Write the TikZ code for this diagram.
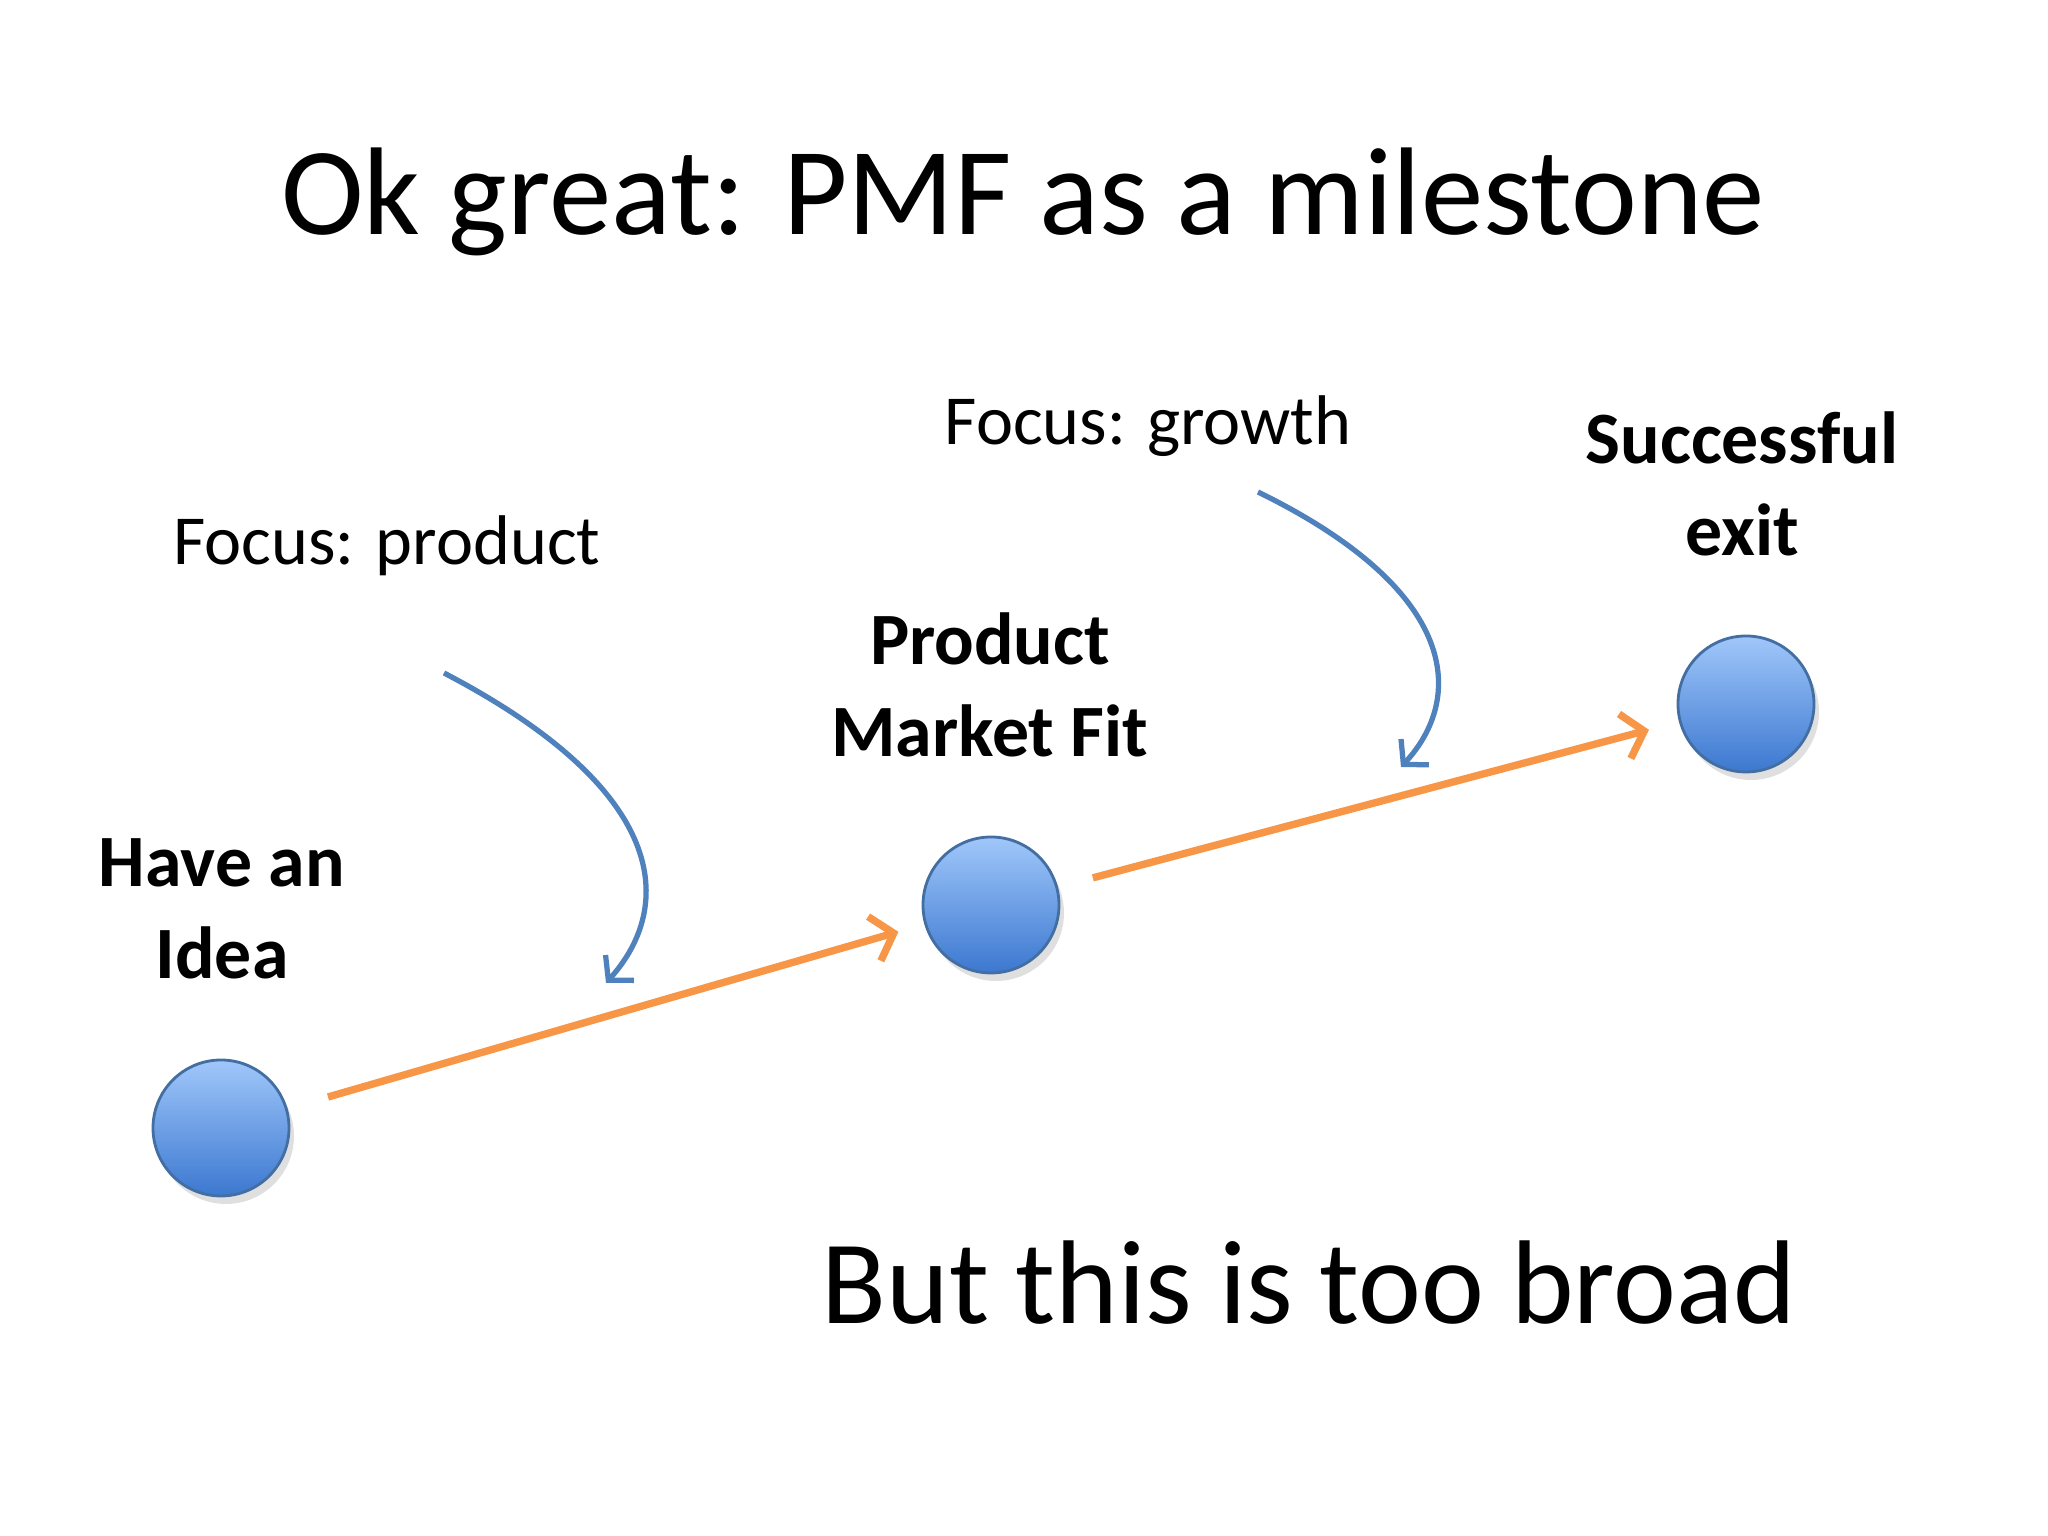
\documentclass[tikz,border=0pt]{standalone}
\usepackage{fontspec}
\setmainfont{Carlito}
\usetikzlibrary{arrows.meta,shadows}
\definecolor{stageblue}{RGB}{79,129,189}
\definecolor{ballblue}{RGB}{60,120,208}
\definecolor{balltop}{RGB}{160,199,250}
\definecolor{steporange}{RGB}{247,150,70}
\begin{document}
\begin{tikzpicture}
    [
    stage/.style={circle,draw=stageblue!85!black,line width=0.8pt,minimum size=1.36cm,inner sep=0pt,
      top color=balltop,bottom color=ballblue,drop shadow={opacity=0.25,shadow xshift=0.5mm,shadow yshift=-0.8mm}},
    caption/.style={font=\fontsize{21}{26}\selectfont\bfseries,align=center},
    focus/.style={font=\fontsize{20}{24}\selectfont},
    progress/.style={draw=steporange,line width=2.1pt,-{Straight Barb[length=2mm,width=4.6mm]}},
    pressure/.style={draw=stageblue,line width=1.5pt,-{Straight Barb[length=1.7mm,width=3.8mm]}}
    ]
    \useasboundingbox (0,0) rectangle (20.48,15.36);
    \node (title) at (10.23,13.34) {\fontsize{35.5}{42}\selectfont Ok great: PMF as a milestone};
    \node (idea) at (2.21,4.08) [stage] {};
    \node (pmf) at (9.91,6.31) [stage] {};
    \node (exit) at (17.46,8.32) [stage] {};
    \node (ideatext) at (2.22,6.27) [caption] {Have an\\Idea};
    \node (pmftext) at (9.90,8.51) [caption] {Product\\Market Fit};
    \node (exittext) at (17.42,10.52) [caption] {Successful\\exit};
    \node (product) at (3.87,9.90) [focus] {Focus: product};
    \node (growth) at (11.48,11.10) [focus] {Focus: growth};
    \node (broad) at (13.09,2.53) {\fontsize{33.9}{40}\selectfont But this is too broad};
    \coordinate (p1) at (4.44,8.63);
    \coordinate (p2) at (6.06,5.53);
    \coordinate (g1) at (12.58,10.44);
    \coordinate (g2) at (14.01,7.69);
    \draw [progress,shorten <=0.42cm,shorten >=0.27cm] (idea) to (pmf);
    \draw [progress,shorten <=0.36cm,shorten >=0.31cm] (pmf) to (exit);
    \draw [pressure] (p1) .. controls (6.7,7.45) and (6.75,6.3) .. (p2);
    \draw [pressure] (g1) .. controls (14.62,9.44) and (14.64,8.37) .. (g2);
  \end{tikzpicture}
\end{document}
